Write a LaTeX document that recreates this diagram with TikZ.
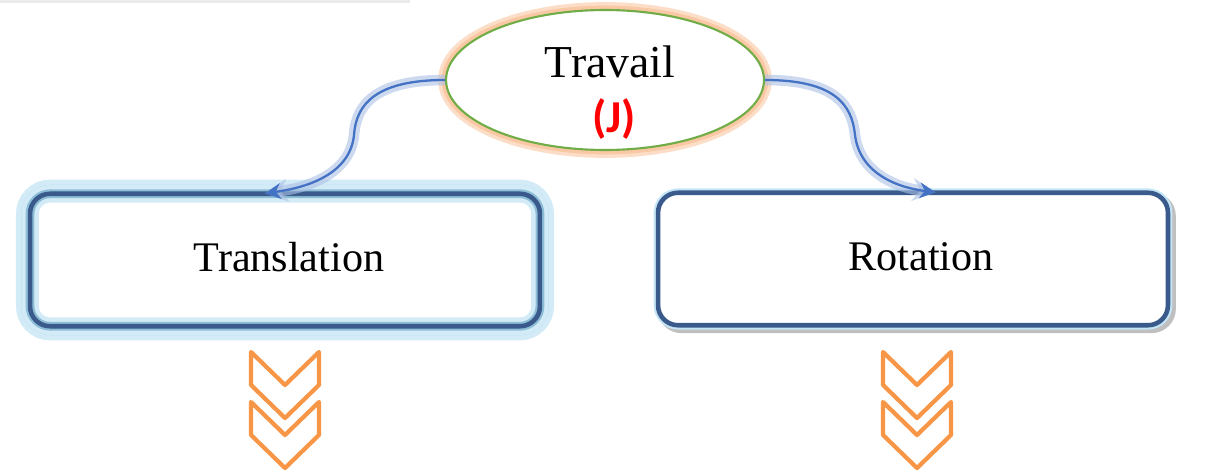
\documentclass[tikz,border=0pt]{standalone}
\usepackage{fontspec}
\setmainfont{Liberation Serif}
\newfontfamily\unitfont{Carlito}
\usetikzlibrary{arrows.meta,shapes.geometric}

\definecolor{boxblue}{HTML}{3A5A8C}
\definecolor{glowblue}{HTML}{9DD3EE}
\definecolor{arrowblue}{HTML}{4472C4}
\definecolor{chevorange}{HTML}{F79646}
\definecolor{ringgreen}{HTML}{70AD47}
\definecolor{ringglow}{HTML}{FAC8A4}

\begin{document}
\begin{tikzpicture}[x=0.02cm,y=-0.02cm,semithick,
    topnode/.style={shape=ellipse,draw=ringgreen,line width=1.2pt,fill=white,
        minimum width=6.36cm,minimum height=2.8cm,inner sep=0pt,
        preaction={draw=ringglow!60,line width=9pt},
        preaction={draw=ringglow,line width=5pt}},
    kindbox/.style={shape=rectangle,rounded corners=0.4cm,fill=white,
        minimum width=10.2cm,minimum height=2.65cm,font=\fontsize{24}{28}\selectfont},
    glowbox/.style={kindbox,
        preaction={draw=glowblue!45,line width=16pt},
        preaction={draw=glowblue,line width=10pt},
        postaction={draw=glowblue!45,line width=10pt},
        postaction={draw=glowblue!90!black,line width=5pt},
        postaction={draw=boxblue,line width=2.6pt}},
    shadebox/.style={kindbox,
        preaction={draw=black!25,line width=5pt,transform canvas={shift={(2pt,-2pt)}}},
        preaction={draw=glowblue!60,line width=5pt},
        postaction={draw=boxblue,line width=2.6pt}},
    link/.style={draw=arrowblue,line width=1.3pt,-{Stealth[length=9pt,width=9pt]},
        preaction={draw=arrowblue!45,line width=6pt,opacity=.6,-{Stealth[length=13pt,width=13pt]}}},
    chev/.style={draw=chevorange,line width=2.4pt,line join=round}]
    \useasboundingbox (0,0) rectangle (1213,473);
    \fill[black!8] (0,0) rectangle (410,3);
    \node[topnode](Travail)at(605, 80){};
    \node[font=\fontsize{26}{30}\selectfont](TravailTxt)at(610, 62){Travail};
    \node[text=red,font=\unitfont\bfseries\fontsize{26}{30}\selectfont](Unit)at(614, 119){(J)};
    \node[glowbox](Translation)at(285, 260){};
    \node[shadebox](Rotation)at(913, 259){};
    \node[font=\fontsize{24}{28}\selectfont](TranslationTxt)at(289, 257){Translation};
    \node[font=\fontsize{24}{28}\selectfont](RotationTxt)at(921, 257){Rotation};
    \path[link] (Travail.west) .. controls (375,80) and (356,105) .. (354,135)
        .. controls (350,175) and (305,188) .. ([xshift=-0.4cm]Translation.north);
    \path[link] (Travail.east) .. controls (835,80) and (852,105) .. (855,135)
        .. controls (860,175) and (900,188) .. ([xshift=0.45cm]Rotation.north);
    % double chevrons under each box
    \foreach \cx in {285,917}
        \foreach \cy in {352,402}
            \draw[chev] (\cx-34,\cy) -- ++(0,33) -- ++(34,33) -- ++(34,-33) -- ++(0,-33) -- ++(-34,33) -- cycle;
\end{tikzpicture}
\end{document}
